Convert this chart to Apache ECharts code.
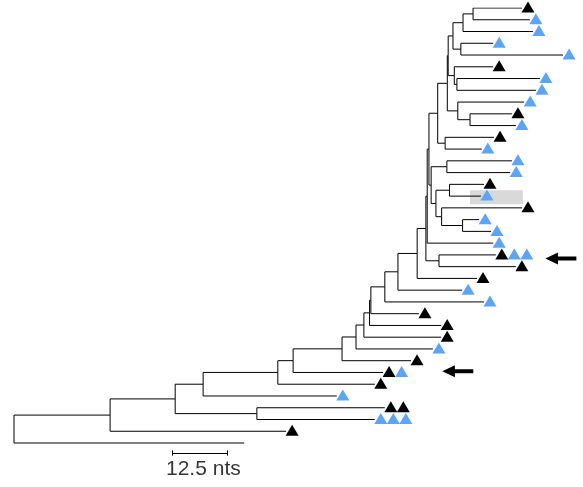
<!DOCTYPE html>
<html><head><meta charset="utf-8">
<script src="https://cdn.jsdelivr.net/npm/echarts@6/dist/echarts.min.js"></script>
<style>html,body{margin:0;padding:0;background:#fff}#c{width:583px;height:487px}</style>
</head><body><div id="c"></div>
<script>
// Leaf tip positions (nts from root), leaf order top to bottom
const leafTip = [116.3,118.1,118.8,109.7,125.7,109.7,120.4,119.5,116.8,114.0,114.9,109.9,107.1,114.0,113.6,107.6,106.9,116.3,106.5,109.2,109.7,110.3,114.9,106.0,102.6,107.6,92.7,97.8,97.8,95.9,90.9,84.5,82.6,73.9,84.9,82.6,62.3,52.7];
// Markers per leaf: K = black triangle, B = blue triangle
const leafMarks = ['K','B','B','B','B','K','B','B','B','K','B','K','B','B','B','K','B','K','B','B','B','KBB','K','K','B','B','K','K','K','B','K','KB','K','B','KK','BBB','K',''];
// Internal nodes
const nodeNames = ['n12','nA','nB','nAB','n78','nC','nD','n1011','nE','nH','nI','nJ','nK','nL','nM','nN','nO','nP','nQ1','nQ2','nS','nV','nU','nW','nX','nY1','nY2','nZ','nAA','nAB2','nAC','nAD','nAE','nAF','nAG','nAH','root'];
const nodeX = [105.1,102.8,102.3,100.5,101.4,100.8,99.4,104.4,101.6,99.2,98.7,97.0,99.1,99.7,102.7,97.9,96.6,95.5,95.0,94.6,97.3,94.3,92.3,87.9,84.9,81.7,81.4,80.1,78.3,75.1,63.9,60.4,43.3,55.6,36.9,22.0,0];
const nodeKids = [[0,1],['n12',2],[3,4],['nA','nB'],[6,7],[5,'n78'],['nAB','nC'],[9,10],[8,'n1011'],['nD','nE'],[11,12],['nH','nI'],[13,14],[15,16],[18,19],[17,'nM'],['nL','nN'],['nK','nO'],['nJ','nP'],['nQ1',20],[21,22],['nQ2','nS'],['nV',23],['nU',24],['nW',25],['nX',26],['nY1',27],['nY2',28],['nZ',29],['nAA',30],['nAB2',31],['nAC',32],['nAD',33],[34,35],['nAE','nAF'],['nAG',36],['nAH',37]];
// Annotations
const highlightBox = [[104.4,15.5],[116.5,16.7]];
const arrowX = [125.2,101.6];
const arrowY = [21.3,30.9];
const scaleBarStart = 36.3, scaleBarLength = 12.5, scaleBarY = 37.85;
const scaleLabel = '12.5 nts';

const BLUE = '#5ba4f7';
const nodeIndex = {}; nodeNames.forEach((n,i)=>nodeIndex[n]=i);
const nodeYCache = {};
function posOf(ref){
  if (typeof ref === 'number') return [leafTip[ref], ref];
  const i = nodeIndex[ref];
  if (nodeYCache[ref] === undefined){
    const kids = nodeKids[i];
    const y0 = posOf(kids[0])[1], y1 = posOf(kids[kids.length-1])[1];
    nodeYCache[ref] = (y0+y1)/2;
  }
  return [nodeX[i], nodeYCache[ref]];
}
const edges = [];
nodeNames.forEach((n,i)=>{
  const p = posOf(n);
  nodeKids[i].forEach(k=>{
    const c = posOf(k);
    edges.push({coords:[[p[0],p[1]],[p[0],c[1]],[c[0],c[1]]]});
  });
});
const blackPts = [], bluePts = [];
leafMarks.forEach((m,i)=>{
  for (let k=0;k<m.length;k++){
    const item = {value:[leafTip[i], i], symbolOffset:[6+12.5*k,-1]};
    (m[k]==='K'?blackPts:bluePts).push(item);
  }
});
const sbEnd = scaleBarStart + scaleBarLength;
const scaleLines = [
  {coords:[[scaleBarStart,scaleBarY],[sbEnd,scaleBarY]]},
  {coords:[[scaleBarStart,scaleBarY-0.22],[scaleBarStart,scaleBarY+0.22]]},
  {coords:[[sbEnd,scaleBarY-0.22],[sbEnd,scaleBarY+0.22]]}
];

const chart = echarts.init(document.getElementById('c'), null, {renderer:'canvas'});
chart.setOption({
  animation:false,
  grid:{left:14, top:8, width:567.84, height:470.28},
  xAxis:{type:'value', min:0, max:130, show:false},
  yAxis:{type:'value', min:0, max:40, inverse:true, show:false},
  series:[
    {type:'scatter', data:[], z:1,
     markArea:{silent:true, itemStyle:{color:'#d9d9d9'},
       data:[[{coord:highlightBox[0]},{coord:highlightBox[1]}]]}},
    {type:'lines', coordinateSystem:'cartesian2d', polyline:true, z:2,
     lineStyle:{color:'#000', width:1, opacity:1}, data:edges},
    {type:'lines', coordinateSystem:'cartesian2d', polyline:false, z:2,
     lineStyle:{color:'#000', width:1, opacity:1}, data:scaleLines},
    {type:'scatter', symbol:'triangle', symbolSize:[13,11], z:3,
     itemStyle:{color:'#000', opacity:1}, data:blackPts},
    {type:'scatter', symbol:'triangle', symbolSize:[13,11], z:3,
     itemStyle:{color:BLUE, opacity:1}, data:bluePts},
    {type:'scatter', symbol:'path://M0,6L13,0L13,4L32,4L32,8L13,8L13,12Z', symbolSize:[31,12], z:3,
     itemStyle:{color:'#000', opacity:1}, data:arrowX.map((x,i)=>[x,arrowY[i]])},
    {type:'scatter', symbolSize:0, z:3,
     label:{show:true, position:'inside', formatter:scaleLabel, color:'#000', fontSize:21, fontFamily:'Liberation Sans'},
     data:[[scaleBarStart+scaleBarLength/2+0.8, 39.2]]}
  ]
});
</script></body></html>
